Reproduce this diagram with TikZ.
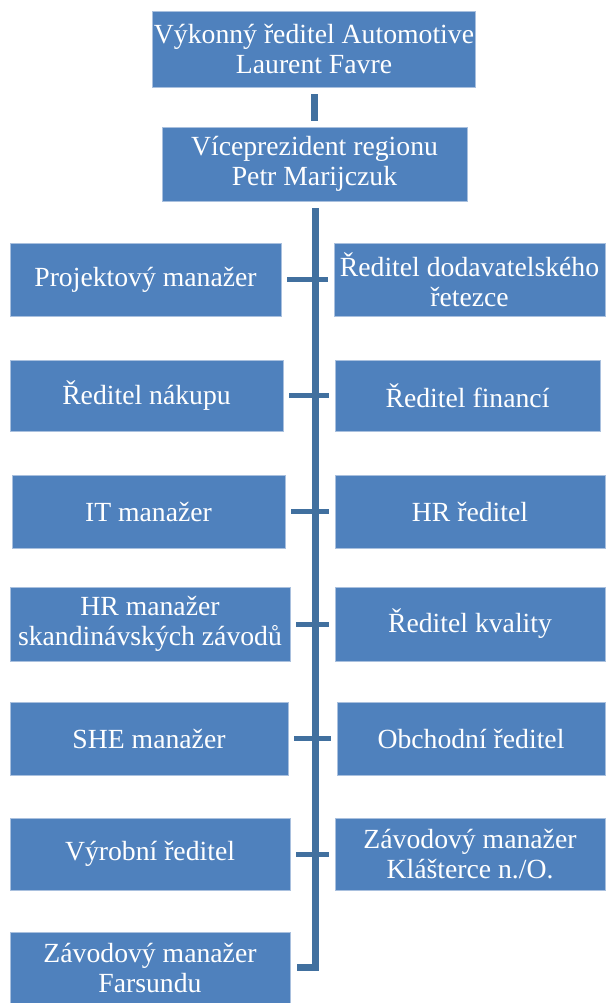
\documentclass[tikz,border=0pt]{standalone}
\usepackage{fontspec}
\setmainfont{Liberation Serif}
\definecolor{boxblue}{HTML}{4F81BD}
\definecolor{boxrim}{HTML}{A9C0DE}
\definecolor{linkblue}{HTML}{41709F}
\tikzset{
  orgbox/.style={rectangle, fill=boxblue, draw=boxrim, line width=0.8pt,
    inner sep=0pt, align=center, text=white,
    font=\fontsize{27.7}{30}\selectfont},
  link/.style={draw=linkblue, line width=5pt},
  trunk/.style={draw=linkblue, line width=7pt},
}
\begin{document}
\begin{tikzpicture}[x=1pt, y=-1pt]
\useasboundingbox (0,0) rectangle (607,1003);

% top of the hierarchy
\node[orgbox, minimum width=323pt, minimum height=76pt] (ceo) at (314,49)
  {Výkonný ředitel Automotive\\Laurent Favre};
\node[orgbox, minimum width=305pt, minimum height=74pt] (vp) at (314.5,164)
  {Víceprezident regionu\\Petr Marijczuk};

% left column
\node[orgbox, minimum width=271pt, minimum height=73pt] (l1) at (145.5,279.5) {Projektový manažer};
\node[orgbox, minimum width=273pt, minimum height=71pt] (l2) at (146.5,395.5) {Ředitel nákupu};
\node[orgbox, minimum width=273pt, minimum height=73pt] (l3) at (148.5,511.5) {IT manažer};
\node[orgbox, minimum width=280pt, minimum height=74pt] (l4) at (150,624) {HR manažer\\skandinávských závodů};
\node[orgbox, minimum width=278pt, minimum height=73pt] (l5) at (149,738.5) {SHE manažer};
\node[orgbox, minimum width=280pt, minimum height=72pt] (l6) at (150,854) {Výrobní ředitel};
\node[orgbox, minimum width=280pt, minimum height=71pt] (l7) at (150,967.5) {Závodový manažer\\Farsundu};

% right column
\node[orgbox, minimum width=271pt, minimum height=73pt] (r1) at (469.5,279.5) {Ředitel dodavatelského\\řetezce};
\node[orgbox, minimum width=265pt, minimum height=71pt] (r2) at (467.5,395.5) {Ředitel financí};
\node[orgbox, minimum width=270pt, minimum height=73pt] (r3) at (470,511.5) {HR ředitel};
\node[orgbox, minimum width=270pt, minimum height=74pt] (r4) at (470,624) {Ředitel kvality};
\node[orgbox, minimum width=268pt, minimum height=73pt] (r5) at (471,738.5) {Obchodní ředitel};
\node[orgbox, minimum width=270pt, minimum height=72pt] (r6) at (470,854) {Závodový manažer\\Klášterce n./O.};

% connectors
\draw[trunk, shorten <=7pt, shorten >=6pt] (ceo.south) -- (ceo.south |- vp.north);
\coordinate (trunktop) at (315,208);
\draw[trunk] (trunktop) |- ([xshift=7pt]l7.east);
\foreach \i in {1,...,6}{
  \draw[link, shorten <=6pt, shorten >=6pt] (l\i.east) -- (r\i.west);
}
\end{tikzpicture}
\end{document}
